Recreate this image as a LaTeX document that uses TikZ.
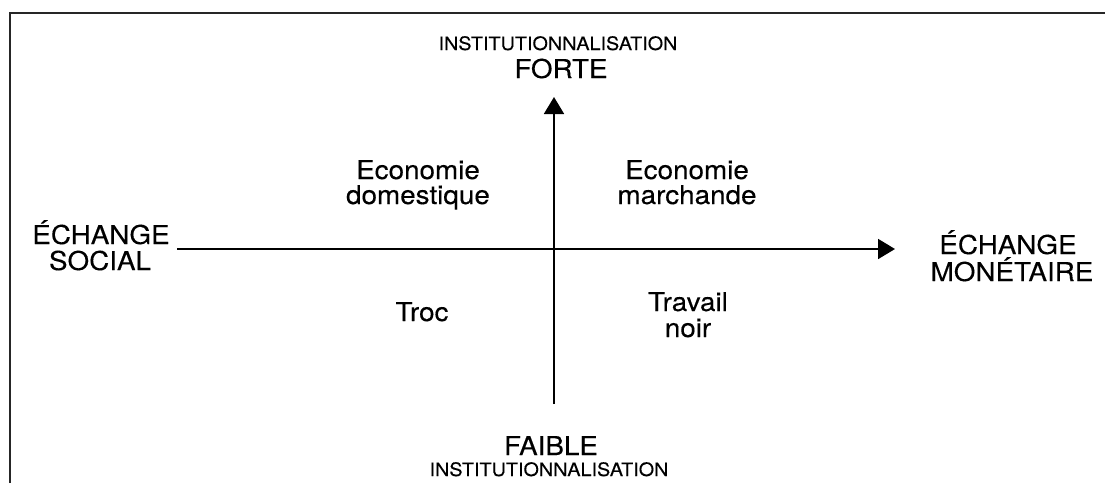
\documentclass[tikz,border=0pt]{standalone}
\usepackage{fontspec}
\setmainfont{TeX Gyre Heros}[FakeStretch=1.07, FakeBold=0.25]
\usetikzlibrary{arrows.meta}

\tikzset{
  axis/.style={line width=1.9pt, -{Triangle[length=17pt,width=20pt]}},
  frameline/.style={line width=1.6pt, color=black!85},
  big/.style={anchor=base, inner sep=0pt, font=\fontsize{26}{30}\selectfont},
  small/.style={anchor=base, inner sep=0pt, font=\fontsize{18.5}{22}\selectfont},
}

\begin{document}
\begin{tikzpicture}[x=1pt, y=-1pt]
  \useasboundingbox (0,0) rectangle (1105,483);

  % open frame: left and top edges only
  \draw[frameline] (10,483) -- (10,13) -- (1105,13);

  % axes
  \coordinate (vbot) at (554,404);
  \coordinate (vtop) at (554,97);
  \coordinate (hleft) at (177,249);
  \coordinate (hright) at (895,249);
  \draw[axis] (vbot) -- (vtop);
  \draw[axis] (hleft) -- (hright);

  % vertical axis labels
  \node[small] (instTop) at (558,50) {INSTITUTIONNALISATION};
  \node[big]   (forte)   at (561,78) {FORTE};
  \node[big]   (faible)  at (551,455) {FAIBLE};
  \node[small] (instBot) at (549,476) {INSTITUTIONNALISATION};

  % horizontal axis labels
  \node[big] (echL)  at (101,244) {ÉCHANGE};
  \node[big] (social) at (100,270) {SOCIAL};
  \node[big] (echR)  at (1008,254) {ÉCHANGE};
  \node[big] (monet) at (1012,281) {MONÉTAIRE};

  % quadrants
  \node[big] (ecoD1) at (418,179) {Economie};
  \node[big] (ecoD2) at (418,204) {domestique};
  \node[big] (ecoM1) at (687,179) {Economie};
  \node[big] (ecoM2) at (687,204) {marchande};
  \node[big] (troc)  at (422,321) {Troc};
  \node[big] (trav1) at (688,311) {Travail};
  \node[big] (trav2) at (688,337) {noir};
\end{tikzpicture}
\end{document}
